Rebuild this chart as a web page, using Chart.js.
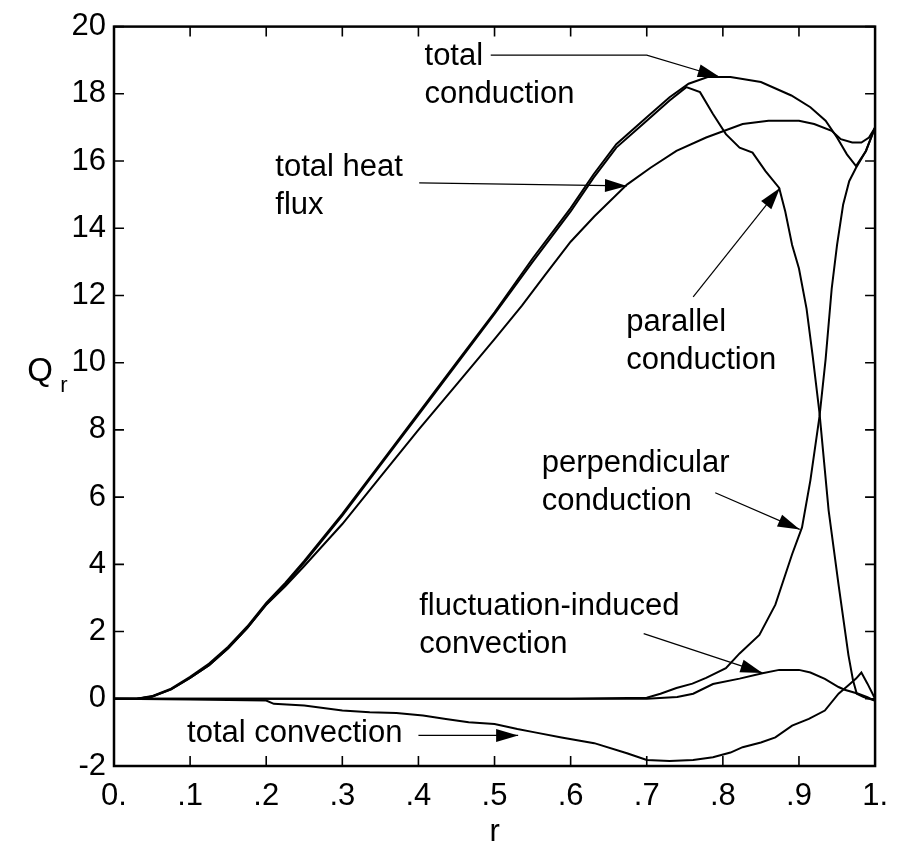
<!DOCTYPE html>
<html>
<head>
<meta charset="utf-8">
<script src="https://cdn.jsdelivr.net/npm/chart.js@4.4.0/dist/chart.umd.min.js"></script>
<style>
  html, body { margin: 0; padding: 0; background: #fff; }
  #wrap { width: 900px; height: 857px; }
</style>
</head>
<body>
<div id="wrap"><canvas id="qrChart" width="900" height="857"></canvas></div>
<script>
// heat flux components Q_r(r)
var rHeat = [0, 0.03, 0.05, 0.075, 0.1, 0.125, 0.15, 0.175, 0.2, 0.225, 0.25, 0.3, 0.35, 0.4, 0.45, 0.5, 0.536, 0.566, 0.6, 0.631, 0.674, 0.705, 0.739, 0.778, 0.826, 0.86, 0.9, 0.92, 0.943, 0.955, 0.97, 0.982, 0.992, 1.0];
var qHeat = [0, 0.0, 0.07, 0.28, 0.62, 1.0, 1.5, 2.1, 2.8, 3.35, 3.95, 5.2, 6.6, 8.0, 9.35, 10.7, 11.7, 12.6, 13.6, 14.35, 15.3, 15.8, 16.3, 16.7, 17.1, 17.2, 17.2, 17.1, 16.9, 16.65, 16.55, 16.55, 16.7, 17.0];

var rCond = [0, 0.03, 0.05, 0.075, 0.1, 0.125, 0.15, 0.175, 0.2, 0.225, 0.25, 0.3, 0.35, 0.4, 0.45, 0.5, 0.55, 0.6, 0.63, 0.66, 0.7, 0.73, 0.755, 0.78, 0.81, 0.85, 0.89, 0.915, 0.935, 0.95, 0.963, 0.975, 0.988, 1.0];
var qCond = [0, 0.0, 0.08, 0.3, 0.65, 1.05, 1.55, 2.15, 2.85, 3.45, 4.1, 5.5, 7.0, 8.5, 10.0, 11.5, 13.1, 14.6, 15.6, 16.5, 17.3, 17.9, 18.3, 18.5, 18.5, 18.35, 17.95, 17.6, 17.2, 16.7, 16.2, 15.85, 16.3, 17.0];

var rPar = [0, 0.03, 0.05, 0.075, 0.1, 0.125, 0.15, 0.175, 0.2, 0.225, 0.25, 0.3, 0.35, 0.4, 0.45, 0.5, 0.55, 0.6, 0.63, 0.66, 0.7, 0.73, 0.752, 0.77, 0.787, 0.804, 0.822, 0.839, 0.856, 0.874, 0.882, 0.891, 0.9, 0.91, 0.918, 0.927, 0.939, 0.952, 0.965, 0.971, 0.976, 0.985, 1.0];
var qPar = [0, 0.0, 0.06, 0.28, 0.62, 1.0, 1.5, 2.1, 2.8, 3.4, 4.05, 5.45, 6.95, 8.45, 9.95, 11.45, 13.0, 14.5, 15.5, 16.4, 17.2, 17.8, 18.2, 18.05, 17.4, 16.8, 16.4, 16.25, 15.7, 15.2, 14.5, 13.5, 12.8, 11.6, 10.2, 8.5, 5.6, 3.4, 1.3, 0.55, 0.15, 0.05, -0.05];

var rPerp = [0, 0.6, 0.7, 0.718, 0.739, 0.76, 0.778, 0.804, 0.822, 0.848, 0.869, 0.891, 0.904, 0.915, 0.927, 0.935, 0.943, 0.95, 0.958, 0.966, 0.975, 0.988, 1.0];
var qPerp = [0, 0.0, 0.03, 0.15, 0.32, 0.45, 0.62, 0.91, 1.35, 1.9, 2.8, 4.3, 5.1, 6.5, 8.4, 10.1, 12.2, 13.5, 14.7, 15.4, 15.8, 16.3, 17.0];

var rFluct = [0, 0.7, 0.74, 0.761, 0.787, 0.822, 0.852, 0.874, 0.9, 0.915, 0.934, 0.952, 0.96, 0.978, 0.99, 1.0];
var qFluct = [0, 0.0, 0.05, 0.15, 0.44, 0.6, 0.76, 0.86, 0.86, 0.78, 0.59, 0.35, 0.27, 0.15, 0.05, -0.06];

var rConv = [0, 0.1, 0.2, 0.21, 0.25, 0.3, 0.336, 0.371, 0.406, 0.436, 0.466, 0.5, 0.53, 0.553, 0.588, 0.631, 0.674, 0.7, 0.73, 0.761, 0.787, 0.81, 0.826, 0.85, 0.869, 0.891, 0.913, 0.934, 0.952, 0.965, 0.975, 0.982, 0.99, 1.0];
var qConv = [0, -0.02, -0.05, -0.15, -0.2, -0.35, -0.4, -0.42, -0.5, -0.6, -0.7, -0.75, -0.9, -1.0, -1.15, -1.32, -1.62, -1.82, -1.85, -1.82, -1.74, -1.6, -1.44, -1.3, -1.15, -0.8, -0.6, -0.35, 0.15, 0.4, 0.6, 0.78, 0.45, 0.0];

var xTicks = [0, 0.1, 0.2, 0.3, 0.4, 0.5, 0.6, 0.7, 0.8, 0.9, 1.0];
var xTickLabels = ['0.', '.1', '.2', '.3', '.4', '.5', '.6', '.7', '.8', '.9', '1.'];
var yTicks = [-2, 0, 2, 4, 6, 8, 10, 12, 14, 16, 18, 20];

// labels with arrows, in data coordinates (r, Q)
var notes = [
  { lines: ['total', 'conduction'], at: [0.408, 19.1], arrow: [[0.495, 19.15], [0.70, 19.15], [0.796, 18.5]] },
  { lines: ['total heat', 'flux'], at: [0.212, 15.82], arrow: [[0.401, 15.35], [0.674, 15.26]] },
  { lines: ['parallel', 'conduction'], at: [0.673, 11.19], arrow: [[0.761, 11.96], [0.875, 15.2]] },
  { lines: ['perpendicular', 'conduction'], at: [0.562, 7.01], arrow: [[0.79, 6.13], [0.901, 5.04]] },
  { lines: ['fluctuation-induced', 'convection'], at: [0.401, 2.74], arrow: [[0.696, 1.94], [0.852, 0.77]] },
  { lines: ['total convection'], at: [0.096, -1.03], arrow: [[0.4, -1.09], [0.531, -1.09]] }
];

var FONT = '"Liberation Sans", Arial, Helvetica, sans-serif';

function pts(rs, qs) {
  return rs.map(function (r, i) { return { x: r, y: qs[i] }; });
}

function curve(label, rs, qs) {
  return {
    label: label,
    data: pts(rs, qs),
    borderColor: '#000',
    borderWidth: 2,
    pointRadius: 0,
    fill: false,
    tension: 0
  };
}

var frame = {
  id: 'frame',
  afterDatasetsDraw: function (chart) {
    var ctx = chart.ctx, a = chart.chartArea;
    var xs = chart.scales.x, ys = chart.scales.y;
    ctx.save();
    ctx.strokeStyle = '#000';
    ctx.lineWidth = 2.5;
    ctx.strokeRect(a.left, a.top, a.right - a.left, a.bottom - a.top);

    // inward ticks on all four sides
    ctx.lineWidth = 1.6;
    ctx.beginPath();
    xTicks.forEach(function (v) {
      var px = xs.getPixelForValue(v);
      ctx.moveTo(px, a.bottom); ctx.lineTo(px, a.bottom - 10);
      ctx.moveTo(px, a.top); ctx.lineTo(px, a.top + 10);
    });
    yTicks.forEach(function (v) {
      var py = ys.getPixelForValue(v);
      ctx.moveTo(a.left, py); ctx.lineTo(a.left + 10, py);
      ctx.moveTo(a.right, py); ctx.lineTo(a.right - 10, py);
    });
    ctx.stroke();

    // annotations
    ctx.fillStyle = '#000';
    ctx.font = '31px ' + FONT;
    ctx.textBaseline = 'middle';
    ctx.textAlign = 'left';
    notes.forEach(function (n) {
      var tx = xs.getPixelForValue(n.at[0]), ty = ys.getPixelForValue(n.at[1]);
      n.lines.forEach(function (t, i) { ctx.fillText(t, tx, ty + i * 38); });

      var p = n.arrow.map(function (q) { return [xs.getPixelForValue(q[0]), ys.getPixelForValue(q[1])]; });
      ctx.lineWidth = 1.2;
      ctx.beginPath();
      ctx.moveTo(p[0][0], p[0][1]);
      for (var i = 1; i < p.length; i++) ctx.lineTo(p[i][0], p[i][1]);
      ctx.stroke();

      var p1 = p[p.length - 2], p2 = p[p.length - 1];
      var ang = Math.atan2(p2[1] - p1[1], p2[0] - p1[0]);
      var c = Math.cos(ang), s = Math.sin(ang);
      ctx.beginPath();
      ctx.moveTo(p2[0], p2[1]);
      ctx.lineTo(p2[0] - 22 * c + 6.5 * s, p2[1] - 22 * s - 6.5 * c);
      ctx.lineTo(p2[0] - 22 * c - 6.5 * s, p2[1] - 22 * s + 6.5 * c);
      ctx.closePath();
      ctx.fill();
    });

    // axis titles
    ctx.textAlign = 'center';
    ctx.font = '33px ' + FONT;
    ctx.fillText('Q', 40, 372);
    ctx.font = '22px ' + FONT;
    ctx.fillText('r', 64, 386);
    ctx.font = '31px ' + FONT;
    ctx.fillText('r', (a.left + a.right) / 2, 832);
    ctx.restore();
  }
};

var ctx = document.getElementById('qrChart').getContext('2d');
var chart = new Chart(ctx, {
  type: 'line',
  data: {
    datasets: [
      curve('total heat flux', rHeat, qHeat),
      curve('total conduction', rCond, qCond),
      curve('parallel conduction', rPar, qPar),
      curve('perpendicular conduction', rPerp, qPerp),
      curve('fluctuation-induced convection', rFluct, qFluct),
      curve('total convection', rConv, qConv)
    ]
  },
  options: {
    responsive: false,
    animation: false,
    layout: { padding: { left: 0, right: 16, top: 18, bottom: 0 } },
    plugins: { legend: { display: false }, tooltip: { enabled: false } },
    scales: {
      x: {
        type: 'linear',
        min: 0,
        max: 1,
        grid: { display: false, drawTicks: false },
        border: { display: false },
        afterBuildTicks: function (s) { s.ticks = xTicks.map(function (v) { return { value: v }; }); },
        afterFit: function (s) { s.height = 91; },
        ticks: {
          autoSkip: false,
          maxRotation: 0,
          padding: 12,
          color: '#000',
          font: { family: FONT, size: 31 },
          callback: function (v, i) { return xTickLabels[i]; }
        }
      },
      y: {
        min: -2,
        max: 20,
        grid: { display: false, drawTicks: false },
        border: { display: false },
        afterBuildTicks: function (s) { s.ticks = yTicks.map(function (v) { return { value: v }; }); },
        afterFit: function (s) { s.width = 114; },
        ticks: {
          padding: 8,
          color: '#000',
          font: { family: FONT, size: 31 },
          callback: function (v) { return String(v); }
        }
      }
    }
  },
  plugins: [frame]
});
</script>
</body>
</html>
